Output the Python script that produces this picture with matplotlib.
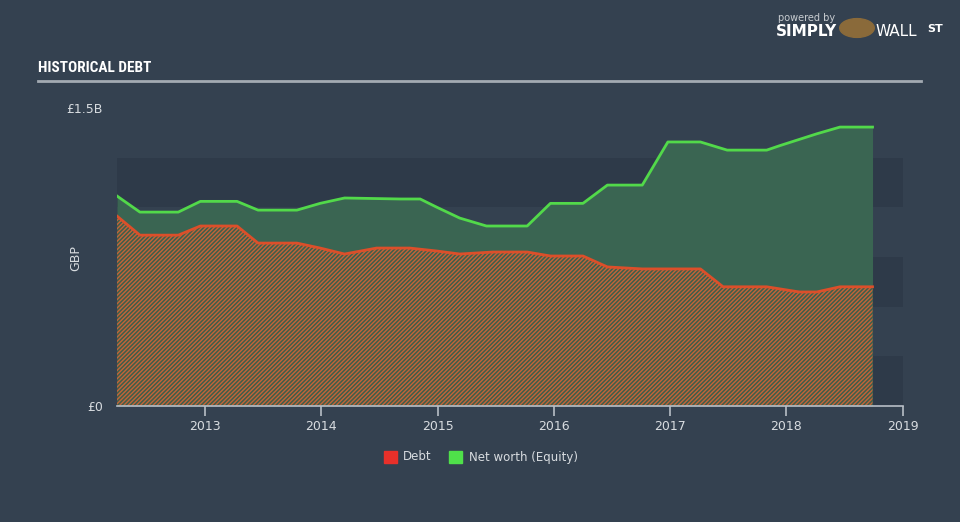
import matplotlib
matplotlib.use("Agg")
import matplotlib.pyplot as plt
from matplotlib.patches import Rectangle
from matplotlib import font_manager

# ---- data (GBP billions) ----
equity_dates = [2012.243, 2012.44, 2012.77, 2012.96, 2013.275, 2013.456, 2013.79, 2013.99,
                2014.20, 2014.68, 2014.85, 2014.995, 2015.19, 2015.42, 2015.77, 2015.97,
                2016.25, 2016.46, 2016.76, 2016.98, 2017.26, 2017.49, 2017.83, 2017.94,
                2018.26, 2018.46, 2018.74]
equity_values = [1.057, 0.976, 0.976, 1.03, 1.03, 0.986, 0.986, 1.02,
                 1.047, 1.042, 1.042, 1.00, 0.946, 0.906, 0.906, 1.02,
                 1.02, 1.112, 1.112, 1.329, 1.329, 1.288, 1.288, 1.31,
                 1.37, 1.404, 1.404]

debt_dates = [2012.243, 2012.44, 2012.77, 2012.96, 2013.275, 2013.456, 2013.79, 2013.99,
              2014.20, 2014.475, 2014.76, 2014.995, 2015.19, 2015.475, 2015.77, 2015.97,
              2016.25, 2016.46, 2016.76, 2016.98, 2017.26, 2017.455, 2017.83, 2018.11,
              2018.26, 2018.46, 2018.74]
debt_values = [0.956, 0.86, 0.86, 0.906, 0.906, 0.82, 0.82, 0.795,
               0.765, 0.795, 0.795, 0.78, 0.765, 0.775, 0.775, 0.755,
               0.755, 0.70, 0.69, 0.69, 0.69, 0.60, 0.60, 0.574,
               0.574, 0.60, 0.60]

year_ticks = [2013, 2014, 2015, 2016, 2017, 2018, 2019]
year_labels = ["2013", "2014", "2015", "2016", "2017", "2018", "2019"]
y_ticks = [0, 1.5]
y_labels = ["£0", "£1.5B"]
legend_labels = ["Debt", "Net worth (Equity)"]

# ---- style ----
BG = "#344150"
BAND = "#2e3a49"
TXT = "#d8dce0"
GREEN_LINE = "#52d94a"
GREEN_FILL = "#3a6552"
RED_LINE = "#dc4f2a"
plt.rcParams['hatch.linewidth'] = 1.0

installed = {f.name for f in font_manager.fontManager.ttflist}
narrow = [f for f in ["Liberation Sans Narrow", "DejaVu Sans Condensed", "Roboto Condensed"]
          if f in installed]

fig = plt.figure(figsize=(9.6, 5.22), dpi=100, facecolor=BG)
ax = fig.add_axes([117/960, 1-406/522, (903-117)/960, (406-108)/522])
ax.set_facecolor(BG)
ax.set_xlim(2012.243, 2019.002)
ax.set_ylim(0, 1.5)

# alternating bands
for lo in (0.0, 0.5, 1.0):
    ax.axhspan(lo, lo + 0.25, color=BAND, zorder=0, lw=0)

ax.fill_between(equity_dates, 0, equity_values, color=GREEN_FILL, lw=0, zorder=1)
ax.fill_between(debt_dates, 0, debt_values, facecolor="#3f5e4a", edgecolor="#c46438",
                hatch="////////", lw=0, zorder=2)
ax.plot(equity_dates, equity_values, color=GREEN_LINE, lw=2, zorder=3)
ax.plot(debt_dates, debt_values, color=RED_LINE, lw=2, zorder=3)

for s in ("top", "right", "left"):
    ax.spines[s].set_visible(False)
ax.spines["bottom"].set_color("#b8bec6")
ax.spines["bottom"].set_linewidth(1.2)
ax.set_xticks(year_ticks)
ax.set_xticklabels(year_labels)
ax.tick_params(axis="x", colors="#b8bec6", length=7, width=1.2, labelcolor=TXT,
               labelsize=9, pad=3)
ax.set_yticks(y_ticks)
ax.set_yticklabels(y_labels)
ax.tick_params(axis="y", length=0, labelcolor=TXT, labelsize=9, pad=10)
ax.set_ylabel("GBP", color=TXT, fontsize=9)
ax.yaxis.set_label_coords(-35/786, 148/298)

# title and rule
if narrow:
    fig.text(38/960, 1-68/522, "HISTORICAL DEBT", color="white", fontsize=11,
             fontweight="bold", family=narrow + ["DejaVu Sans"], va="center")
else:
    fig.text(38/960, 1-68/522, "HISTORICAL DEBT", color="white", fontsize=9.5,
             fontweight="bold", va="center")
fig.add_artist(plt.Line2D([38/960, 921/960], [1-81/522, 1-81/522], color="#a3aab2", lw=2))

# branding
fig.text(778/960, 1-18/522, "powered by", color="#c8ccd0", fontsize=7, va="center")
fig.text(776/960, 1-31/522, "SIMPLY", color="white", fontsize=11, fontweight="bold",
         va="center")
fig.text(876/960, 1-31/522, "WALL", color="white", fontsize=11, va="center")
fig.text(927/960, 1-29/522, "ST", color="white", fontsize=8, fontweight="bold", va="center")
fig.add_artist(plt.Circle((857/960, 1-28/522), 0.018, transform=fig.transFigure,
                          color="#8a6a3a"))

# legend
fig.add_artist(Rectangle((384/960, 1-463/522), 13/960, 12/522, transform=fig.transFigure,
                         color="#e8302a"))
fig.text(403/960, 1-457/522, legend_labels[0], color=TXT, fontsize=8.5, va="center")
fig.add_artist(Rectangle((449/960, 1-463/522), 13/960, 12/522, transform=fig.transFigure,
                         color="#4fe04a"))
fig.text(469/960, 1-457/522, legend_labels[1], color=TXT, fontsize=8.5, va="center")

fig.savefig("out.png", dpi=100, facecolor=BG)
